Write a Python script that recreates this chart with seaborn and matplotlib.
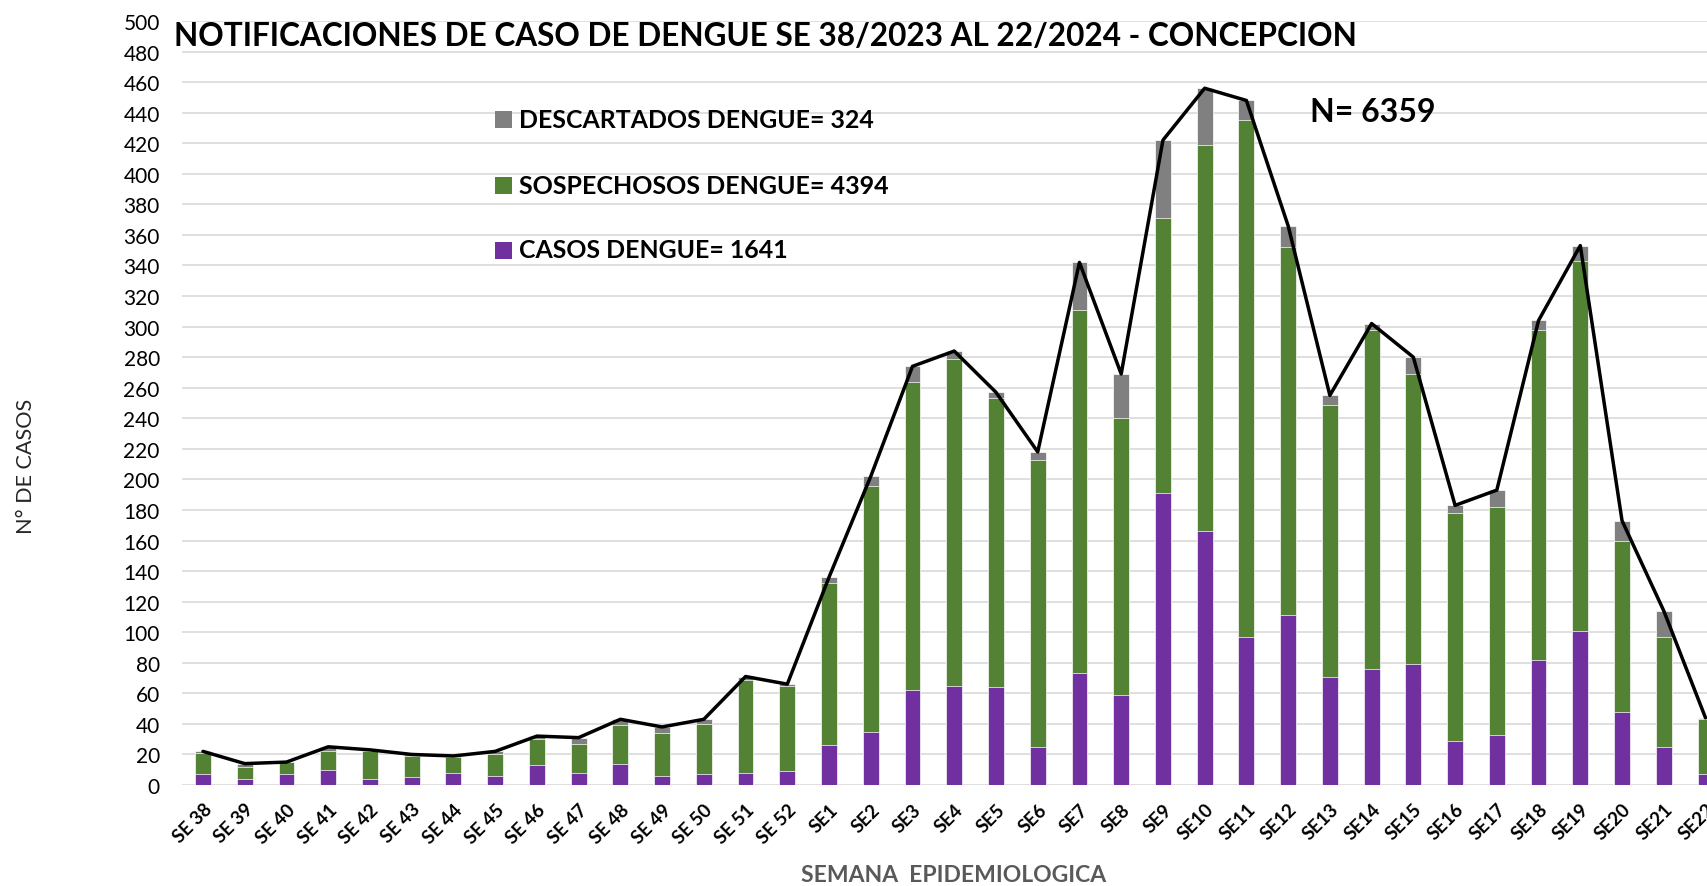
import numpy as np
import pandas as pd
import matplotlib
matplotlib.use("Agg")
import matplotlib.pyplot as plt
from matplotlib.patches import Rectangle
import seaborn as sns

# ---------------- data ----------------
weeks = ["SE 38", "SE 39", "SE 40", "SE 41", "SE 42", "SE 43", "SE 44", "SE 45",
         "SE 46", "SE 47", "SE 48", "SE 49", "SE 50", "SE 51", "SE 52",
         "SE1", "SE2", "SE3", "SE4", "SE5", "SE6", "SE7", "SE8", "SE9", "SE10",
         "SE11", "SE12", "SE13", "SE14", "SE15", "SE16", "SE17", "SE18", "SE19",
         "SE20", "SE21", "SE22"]
casos = [7, 4, 7, 10, 4, 5, 8, 6, 13, 8, 14, 6, 7, 8, 9,
         26, 35, 62, 65, 64, 25, 73, 59, 191, 166, 97, 111, 71, 76, 79, 29, 33,
         82, 101, 48, 25, 7]
sospechosos = [14, 8, 8, 12, 18, 14, 10, 14, 17, 19, 25, 28, 33, 61, 56,
               106, 161, 202, 214, 189, 188, 238, 181, 180, 253, 338, 241, 178,
               222, 190, 149, 149, 216, 242, 112, 72, 36]
descartados = [1, 2, 0, 3, 1, 1, 1, 2, 2, 4, 4, 4, 3, 2, 1,
               4, 6, 10, 5, 4, 5, 31, 29, 51, 37, 13, 14, 6, 4, 11, 5, 11, 6,
               10, 13, 17, 1]
title = "NOTIFICACIONES DE CASO DE DENGUE SE 38/2023 AL 22/2024 - CONCEPCION"
legend_labels = ["DESCARTADOS DENGUE= 324", "SOSPECHOSOS DENGUE= 4394",
                 "CASOS DENGUE= 1641"]
n_label = "N= 6359"
y_ticks = list(range(0, 501, 20))

df = pd.DataFrame({"semana": weeks, "casos": casos,
                   "sospechosos": sospechosos, "descartados": descartados})
df["cum_sosp"] = df["casos"] + df["sospechosos"]
df["total"] = df["cum_sosp"] + df["descartados"]
df["pos"] = np.arange(len(df))

C_PURPLE = "#7030A0"
C_GREEN = "#548235"
C_GRAY = "#808080"

sns.set_theme(style="white")
plt.rcParams["font.family"] = ["Lato", "DejaVu Sans"]

W, H = 1708, 887
fig = plt.figure(figsize=(W / 100, H / 100), dpi=100)
ax = fig.add_axes([182 / W, (H - 786) / H, 1 - 182 / W, (786 - 22) / H])

bw = 0.38
common = dict(order=weeks, width=bw, saturation=1, edgecolor="white",
              linewidth=0.5, ax=ax, errorbar=None)
sns.barplot(data=df, x="semana", y="total", color=C_GRAY, **common)
sns.barplot(data=df, x="semana", y="cum_sosp", color=C_GREEN, **common)
sns.barplot(data=df, x="semana", y="casos", color=C_PURPLE, **common)
sns.lineplot(data=df, x="pos", y="total", color="black", linewidth=2.5,
             ax=ax, zorder=5)

ax.set_xlim(-0.503, 36.06)
ax.set_ylim(0, 500)
ax.set_yticks(y_ticks)
ax.set_xticks(df["pos"])
ax.set_xticklabels(weeks, rotation=45, ha="right", rotation_mode="anchor",
                   fontsize=13.5, fontweight="bold")
ax.tick_params(axis="x", length=0, pad=11, colors="black")
ax.tick_params(axis="y", length=0, pad=16, labelsize=15, colors="black")
ax.grid(axis="y", color="#D9D9D9", linewidth=1.2)
ax.set_axisbelow(True)
for s in ax.spines.values():
    s.set_visible(False)
ax.set_xlabel("")
ax.set_ylabel("")

# ---------------- texts ----------------
def fit(t, target, vertical=False):
    fig.canvas.draw()
    bb = t.get_window_extent()
    cur = bb.height if vertical else bb.width
    t.set_fontsize(t.get_fontsize() * target / cur)

t_title = fig.text(174 / W, 1 - 36 / H, title, ha="left", va="center",
                   fontsize=22, fontweight="bold", color="black")
fit(t_title, 1182)

legend_colors = [C_GRAY, C_GREEN, C_PURPLE]
legend_y = [120, 186, 251]
for lab, col, yy, tw in zip(legend_labels, legend_colors, legend_y, [356, 369, 269]):
    fig.add_artist(Rectangle((495 / W, 1 - (yy + 8.5) / H), 17 / W, 17 / H,
                             transform=fig.transFigure, facecolor=col,
                             edgecolor="none"))
    t = fig.text(519 / W, 1 - yy / H, lab, ha="left", va="center",
                 fontsize=18, fontweight="bold", color="black")
    fit(t, tw)

t_n = fig.text(1310 / W, 1 - 112 / H, n_label, ha="left", va="center",
               fontsize=22, fontweight="bold", color="black")
fit(t_n, 125)

t_xl = fig.text(954 / W, 1 - 876 / H, "SEMANA  EPIDEMIOLOGICA", ha="center",
                va="center", fontsize=15, fontweight="bold", color="#595959")
fit(t_xl, 304)

t_yl = fig.text(26 / W, 1 - 466 / H, "N° DE CASOS", ha="center", va="center",
                rotation=90, fontsize=15, color="#262626",
                family=["Liberation Sans Narrow", "Lato", "DejaVu Sans"])
fit(t_yl, 136, vertical=True)

fig.savefig("out.png", dpi=100)
